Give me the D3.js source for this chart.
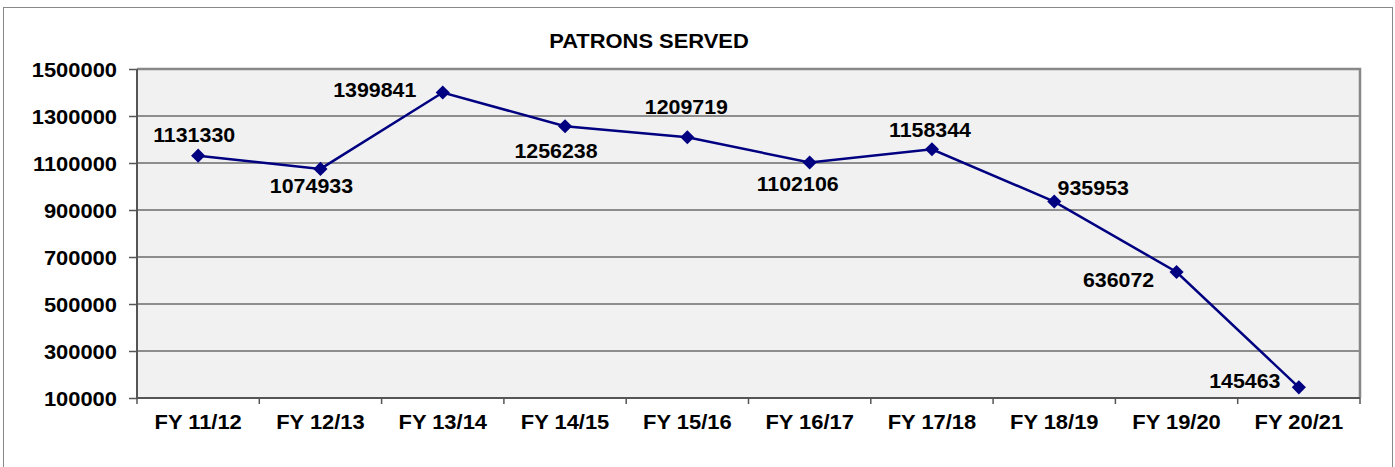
<!DOCTYPE html>
<html lang="en">
<head>
    <meta charset="UTF-8">
    <title>Patrons Served</title>
    <style>
        body {
            margin: 0;
            background: #fff;
            overflow: hidden;
        }

        svg text {
            font-family: "Liberation Sans", Arial, sans-serif;
            font-weight: bold;
            fill: #000;
        }

        .axis path {
            display: none;
        }

        .axis line {
            stroke: #555;
            stroke-width: 1.5px;
        }
    </style>
</head>
<body>
    <div id="chart"></div>
    <script src="https://d3js.org/d3.v7.min.js"></script>
    <script>
    const categories = ["FY 11/12", "FY 12/13", "FY 13/14", "FY 14/15", "FY 15/16",
        "FY 16/17", "FY 17/18", "FY 18/19", "FY 19/20", "FY 20/21"];
    const patrons = [1131330, 1074933, 1399841, 1256238, 1209719,
        1102106, 1158344, 935953, 636072, 145463];
    const yTicks = [100000, 300000, 500000, 700000, 900000, 1100000, 1300000, 1500000];
    const chartTitle = "PATRONS SERVED";

    // where each value label sits relative to its marker (as Excel placed them)
    const labelOffsets = [[-4, -14], [-9, 24], [-68, 4], [-9, 32], [-1, -23],
        [-12, 28], [-2, -12], [39, -7], [-58, 15], [-54, 1]];

    const width = 1395, height = 467;
    const plot = { left: 137, right: 1360, top: 69, bottom: 398 };
    const stretch = 1.08;

    const svg = d3.select("#chart").append("svg")
        .attr("width", width)
        .attr("height", height);

    // outer frame
    svg.append("rect")
        .attr("x", 3.5).attr("y", 7.5)
        .attr("width", 1389).attr("height", 480)
        .attr("fill", "none")
        .attr("stroke", "#888")
        .attr("stroke-width", 1);

    const x = d3.scaleBand().domain(categories).range([plot.left, plot.right]);
    const y = d3.scaleLinear().domain([100000, 1500000]).range([plot.bottom, plot.top]);

    const addText = (parent, tx, ty, str, anchor, size) => parent.append("text")
        .attr("transform", `translate(${tx},${ty}) scale(${stretch},1)`)
        .attr("text-anchor", anchor)
        .style("font-size", size + "px")
        .text(str);

    // plot background
    svg.append("rect")
        .attr("x", plot.left).attr("y", plot.top)
        .attr("width", plot.right - plot.left)
        .attr("height", plot.bottom - plot.top)
        .attr("fill", "#f1f1f1");

    // gridlines
    svg.append("g")
        .selectAll("line")
        .data(yTicks.slice(1, -1))
        .join("line")
        .attr("x1", plot.left).attr("x2", plot.right)
        .attr("y1", d => y(d)).attr("y2", d => y(d))
        .attr("stroke", "#2a2a2a")
        .attr("stroke-width", 1.2);

    // top and right border of the plot
    svg.append("path")
        .attr("d", `M${plot.left},${plot.top}H${plot.right}V${plot.bottom}`)
        .attr("fill", "none")
        .attr("stroke", "#888")
        .attr("stroke-width", 2.5);

    // y axis
    const yAxis = svg.append("g")
        .attr("class", "axis")
        .attr("transform", `translate(${plot.left},0)`)
        .call(d3.axisLeft(y).tickValues(yTicks).tickSize(8).tickFormat(d3.format("d")));
    yAxis.selectAll("text").remove();
    yTicks.forEach(t => addText(svg, plot.left - 20, y(t) + 7.5, t, "end", 20.3));

    // x axis: labels centered on bands, ticks on band edges
    const xAxis = svg.append("g")
        .attr("class", "axis")
        .attr("transform", `translate(0,${plot.bottom})`)
        .call(d3.axisBottom(x).tickSize(0));
    xAxis.selectAll("text").remove();
    categories.forEach(c => addText(svg, x(c) + x.bandwidth() / 2, 429, c, "middle", 20.3));

    const edges = categories.map(c => x(c)).concat([plot.right]);
    svg.append("g")
        .selectAll("line")
        .data(edges)
        .join("line")
        .attr("x1", d => d).attr("x2", d => d)
        .attr("y1", plot.bottom).attr("y2", plot.bottom + 6)
        .attr("stroke", "#555")
        .attr("stroke-width", 1.5);

    // axis lines
    svg.append("path")
        .attr("d", `M${plot.left},${plot.top}V${plot.bottom}H${plot.right}`)
        .attr("fill", "none")
        .attr("stroke", "#555")
        .attr("stroke-width", 2);

    // title
    addText(svg, 649, 48, chartTitle, "middle", 20.3);

    // the series line
    const line = d3.line()
        .x((d, i) => x(categories[i]) + x.bandwidth() / 2)
        .y(d => y(d));

    svg.append("path")
        .datum(patrons)
        .attr("d", line)
        .attr("fill", "none")
        .attr("stroke", "#000080")
        .attr("stroke-width", 2.5);

    svg.append("g")
        .selectAll("path")
        .data(patrons)
        .join("path")
        .attr("d", d3.symbol().type(d3.symbolSquare).size(100))
        .attr("transform", (d, i) => `translate(${x(categories[i]) + x.bandwidth() / 2},${y(d)}) rotate(45)`)
        .attr("fill", "#000080");

    // value labels
    patrons.forEach((v, i) => {
        const px = x(categories[i]) + x.bandwidth() / 2;
        const py = y(v);
        addText(svg, px + labelOffsets[i][0], py + labelOffsets[i][1], v, "middle", 19.8);
    });
    </script>
</body>
</html>
